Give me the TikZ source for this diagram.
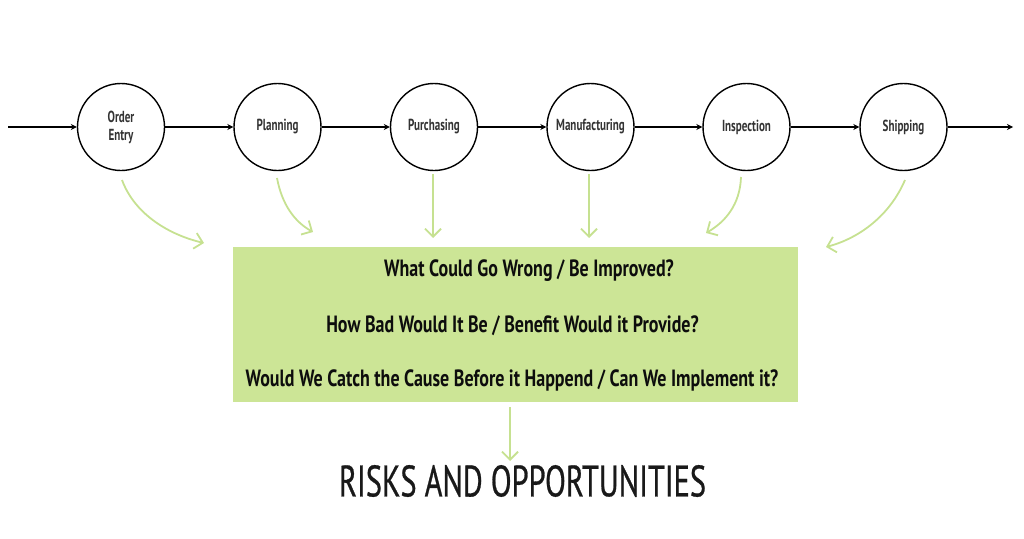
\documentclass[tikz,border=0pt]{standalone}
\usepackage{fontspec}
\setmainfont{PT Sans}[FakeStretch=0.72]
\newfontfamily\condbold{PT Sans Bold}[FakeStretch=0.69]
\newfontfamily\boxfont{PT Sans Bold}[FakeStretch=0.765]
\newfontfamily\titlefont{PT Sans}[FakeStretch=0.69,FakeBold=0.6]
\usetikzlibrary{arrows.meta,positioning}
\definecolor{boxgreen}{HTML}{CCE596}
\definecolor{arrgreen}{HTML}{C6E191}
\tikzset{
  stage/.style={circle,draw=black,line width=1.4pt,minimum size=87pt,inner sep=0pt,align=center,font=\condbold\fontsize{16}{18}\selectfont,text=black!80},
  flow/.style={draw=black,line width=1.3pt,-{Stealth[length=6pt,width=6pt]}},
  gflow/.style={draw=arrgreen,line width=1.8pt,-{Straight Barb[length=8pt,width=16pt]}},
  qbox/.style={fill=boxgreen,draw=none,minimum width=565pt,minimum height=155pt,inner sep=0pt},
  qtext/.style={font=\boxfont\fontsize{23.5}{26}\selectfont,text=black!95},
}
\begin{document}
\begin{tikzpicture}[x=1pt,y=-1pt]
\useasboundingbox (0,0) rectangle (1024,538);
\node[stage] (oe) at (121,127) {Order\\Entry};
\node[stage] (pl) at (277.5,127) {Planning};
\node[stage] (pu) at (434,127) {Purchasing};
\node[stage] (mf) at (590.5,127) {Manufacturing};
\node[stage] (in) at (746.5,127) {Inspection};
\node[stage] (sh) at (903.5,127) {Shipping};
\coordinate (start) at (8,127);
\coordinate (end) at (1013,127);
\draw[flow] (start) -- (oe);
\draw[flow] (oe) -- (pl);
\draw[flow] (pl) -- (pu);
\draw[flow] (pu) -- (mf);
\draw[flow] (mf) -- (in);
\draw[flow] (in) -- (sh);
\draw[flow] (sh) -- (end);

\node[qbox] (box) at (515.5,324.5) {};
\node[qtext] (q1) at (529,271) {What Could Go Wrong / Be Improved?};
\node[qtext] (q2) at (512.5,326) {How Bad Would It Be / Benefit Would it Provide?};
\node[qtext] (q3) at (512,380) {Would We Catch the Cause Before it Happend / Can We Implement it?};

\coordinate (a1s) at (122,180); \coordinate (a1e) at (204,243);
\coordinate (a2s) at (277,178); \coordinate (a2e) at (313,232);
\coordinate (a3s) at (433,174); \coordinate (a3e) at (433,238);
\coordinate (a4s) at (589,174); \coordinate (a4e) at (589,238);
\coordinate (a5s) at (741,177); \coordinate (a5e) at (706,233);
\coordinate (a6s) at (905,180); \coordinate (a6e) at (826,247);
\coordinate (a7s) at (510,407); \coordinate (a7e) at (510,461);
\draw[gflow] (a1s) .. controls (135,215) and (170,235) .. (a1e);
\draw[gflow] (a2s) .. controls (282,205) and (295,222) .. (a2e);
\draw[gflow] (a3s) -- (a3e);
\draw[gflow] (a4s) -- (a4e);
\draw[gflow] (a5s) .. controls (740,205) and (725,222) .. (a5e);
\draw[gflow] (a6s) .. controls (890,215) and (860,238) .. (a6e);
\draw[gflow] (a7s) -- (a7e);

\node[font=\titlefont\fontsize{44}{48}\selectfont,text=black!90] (ro) at (522.5,481) {RISKS AND OPPORTUNITIES};
\end{tikzpicture}
\end{document}
